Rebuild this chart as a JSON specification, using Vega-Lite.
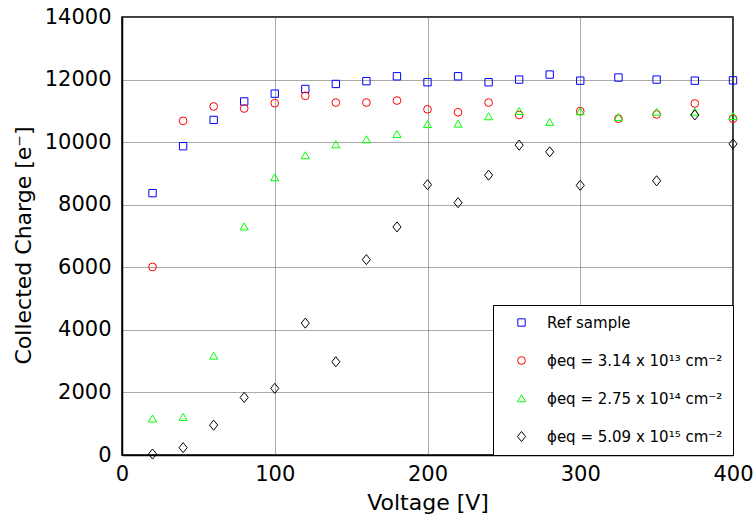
{
  "$schema": "https://vega.github.io/schema/vega-lite/v6.json",
  "width": 611,
  "height": 438,
  "autosize": {"type": "none"},
  "padding": {"left": 122, "top": 17, "right": 22, "bottom": 62},
  "background": "white",
  "data": {
    "values": [
      {"V": 20, "Q": 8370, "series": "Ref sample"},
      {"V": 40, "Q": 9870, "series": "Ref sample"},
      {"V": 60, "Q": 10710, "series": "Ref sample"},
      {"V": 80, "Q": 11300, "series": "Ref sample"},
      {"V": 100, "Q": 11550, "series": "Ref sample"},
      {"V": 120, "Q": 11700, "series": "Ref sample"},
      {"V": 140, "Q": 11860, "series": "Ref sample"},
      {"V": 160, "Q": 11950, "series": "Ref sample"},
      {"V": 180, "Q": 12105, "series": "Ref sample"},
      {"V": 200, "Q": 11915, "series": "Ref sample"},
      {"V": 220, "Q": 12105, "series": "Ref sample"},
      {"V": 240, "Q": 11915, "series": "Ref sample"},
      {"V": 260, "Q": 12000, "series": "Ref sample"},
      {"V": 280, "Q": 12160, "series": "Ref sample"},
      {"V": 300, "Q": 11965, "series": "Ref sample"},
      {"V": 325, "Q": 12065, "series": "Ref sample"},
      {"V": 350, "Q": 12000, "series": "Ref sample"},
      {"V": 375, "Q": 11965, "series": "Ref sample"},
      {"V": 400, "Q": 11975, "series": "Ref sample"},

      {"V": 20, "Q": 6010, "series": "ϕeq = 3.14 x 10¹³ cm⁻²"},
      {"V": 40, "Q": 10680, "series": "ϕeq = 3.14 x 10¹³ cm⁻²"},
      {"V": 60, "Q": 11140, "series": "ϕeq = 3.14 x 10¹³ cm⁻²"},
      {"V": 80, "Q": 11075, "series": "ϕeq = 3.14 x 10¹³ cm⁻²"},
      {"V": 100, "Q": 11245, "series": "ϕeq = 3.14 x 10¹³ cm⁻²"},
      {"V": 120, "Q": 11480, "series": "ϕeq = 3.14 x 10¹³ cm⁻²"},
      {"V": 140, "Q": 11265, "series": "ϕeq = 3.14 x 10¹³ cm⁻²"},
      {"V": 160, "Q": 11265, "series": "ϕeq = 3.14 x 10¹³ cm⁻²"},
      {"V": 180, "Q": 11330, "series": "ϕeq = 3.14 x 10¹³ cm⁻²"},
      {"V": 200, "Q": 11050, "series": "ϕeq = 3.14 x 10¹³ cm⁻²"},
      {"V": 220, "Q": 10955, "series": "ϕeq = 3.14 x 10¹³ cm⁻²"},
      {"V": 240, "Q": 11265, "series": "ϕeq = 3.14 x 10¹³ cm⁻²"},
      {"V": 260, "Q": 10870, "series": "ϕeq = 3.14 x 10¹³ cm⁻²"},
      {"V": 300, "Q": 10990, "series": "ϕeq = 3.14 x 10¹³ cm⁻²"},
      {"V": 325, "Q": 10750, "series": "ϕeq = 3.14 x 10¹³ cm⁻²"},
      {"V": 350, "Q": 10885, "series": "ϕeq = 3.14 x 10¹³ cm⁻²"},
      {"V": 375, "Q": 11235, "series": "ϕeq = 3.14 x 10¹³ cm⁻²"},
      {"V": 400, "Q": 10750, "series": "ϕeq = 3.14 x 10¹³ cm⁻²"},

      {"V": 20, "Q": 1160, "series": "ϕeq = 2.75 x 10¹⁴ cm⁻²"},
      {"V": 40, "Q": 1210, "series": "ϕeq = 2.75 x 10¹⁴ cm⁻²"},
      {"V": 60, "Q": 3170, "series": "ϕeq = 2.75 x 10¹⁴ cm⁻²"},
      {"V": 80, "Q": 7300, "series": "ϕeq = 2.75 x 10¹⁴ cm⁻²"},
      {"V": 100, "Q": 8870, "series": "ϕeq = 2.75 x 10¹⁴ cm⁻²"},
      {"V": 120, "Q": 9575, "series": "ϕeq = 2.75 x 10¹⁴ cm⁻²"},
      {"V": 140, "Q": 9925, "series": "ϕeq = 2.75 x 10¹⁴ cm⁻²"},
      {"V": 160, "Q": 10085, "series": "ϕeq = 2.75 x 10¹⁴ cm⁻²"},
      {"V": 180, "Q": 10255, "series": "ϕeq = 2.75 x 10¹⁴ cm⁻²"},
      {"V": 200, "Q": 10570, "series": "ϕeq = 2.75 x 10¹⁴ cm⁻²"},
      {"V": 220, "Q": 10585, "series": "ϕeq = 2.75 x 10¹⁴ cm⁻²"},
      {"V": 240, "Q": 10820, "series": "ϕeq = 2.75 x 10¹⁴ cm⁻²"},
      {"V": 260, "Q": 10990, "series": "ϕeq = 2.75 x 10¹⁴ cm⁻²"},
      {"V": 280, "Q": 10640, "series": "ϕeq = 2.75 x 10¹⁴ cm⁻²"},
      {"V": 300, "Q": 10980, "series": "ϕeq = 2.75 x 10¹⁴ cm⁻²"},
      {"V": 325, "Q": 10800, "series": "ϕeq = 2.75 x 10¹⁴ cm⁻²"},
      {"V": 350, "Q": 10965, "series": "ϕeq = 2.75 x 10¹⁴ cm⁻²"},
      {"V": 375, "Q": 10965, "series": "ϕeq = 2.75 x 10¹⁴ cm⁻²"},
      {"V": 400, "Q": 10830, "series": "ϕeq = 2.75 x 10¹⁴ cm⁻²"},

      {"V": 20, "Q": 30, "series": "ϕeq = 5.09 x 10¹⁵ cm⁻²"},
      {"V": 40, "Q": 235, "series": "ϕeq = 5.09 x 10¹⁵ cm⁻²"},
      {"V": 60, "Q": 955, "series": "ϕeq = 5.09 x 10¹⁵ cm⁻²"},
      {"V": 80, "Q": 1840, "series": "ϕeq = 5.09 x 10¹⁵ cm⁻²"},
      {"V": 100, "Q": 2130, "series": "ϕeq = 5.09 x 10¹⁵ cm⁻²"},
      {"V": 120, "Q": 4215, "series": "ϕeq = 5.09 x 10¹⁵ cm⁻²"},
      {"V": 140, "Q": 2980, "series": "ϕeq = 5.09 x 10¹⁵ cm⁻²"},
      {"V": 160, "Q": 6245, "series": "ϕeq = 5.09 x 10¹⁵ cm⁻²"},
      {"V": 180, "Q": 7290, "series": "ϕeq = 5.09 x 10¹⁵ cm⁻²"},
      {"V": 200, "Q": 8640, "series": "ϕeq = 5.09 x 10¹⁵ cm⁻²"},
      {"V": 220, "Q": 8065, "series": "ϕeq = 5.09 x 10¹⁵ cm⁻²"},
      {"V": 240, "Q": 8945, "series": "ϕeq = 5.09 x 10¹⁵ cm⁻²"},
      {"V": 260, "Q": 9905, "series": "ϕeq = 5.09 x 10¹⁵ cm⁻²"},
      {"V": 280, "Q": 9690, "series": "ϕeq = 5.09 x 10¹⁵ cm⁻²"},
      {"V": 300, "Q": 8620, "series": "ϕeq = 5.09 x 10¹⁵ cm⁻²"},
      {"V": 350, "Q": 8765, "series": "ϕeq = 5.09 x 10¹⁵ cm⁻²"},
      {"V": 375, "Q": 10870, "series": "ϕeq = 5.09 x 10¹⁵ cm⁻²"},
      {"V": 400, "Q": 9945, "series": "ϕeq = 5.09 x 10¹⁵ cm⁻²"}
    ]
  },
  "mark": {"type": "point", "filled": false, "strokeWidth": 1, "size": 60, "opacity": 1, "clip": false},
  "encoding": {
    "x": {
      "field": "V", "type": "quantitative",
      "scale": {"domain": [0, 400], "nice": false},
      "axis": {"title": "Voltage [V]", "values": [0, 100, 200, 300, 400], "titlePadding": 8, "labelPadding": 8}
    },
    "y": {
      "field": "Q", "type": "quantitative",
      "scale": {"domain": [0, 14000], "nice": false},
      "axis": {"title": "Collected Charge [e⁻]", "values": [0, 2000, 4000, 6000, 8000, 10000, 12000, 14000], "titlePadding": 9, "labelPadding": 11, "titleY": 228, "format": "d"}
    },
    "color": {
      "field": "series", "type": "nominal",
      "scale": {
        "domain": ["Ref sample", "ϕeq = 3.14 x 10¹³ cm⁻²", "ϕeq = 2.75 x 10¹⁴ cm⁻²", "ϕeq = 5.09 x 10¹⁵ cm⁻²"],
        "range": ["#0000ff", "#ff0000", "#00ff00", "#000000"]
      },
      "legend": {"title": null}
    },
    "shape": {
      "field": "series", "type": "nominal",
      "scale": {
        "domain": ["Ref sample", "ϕeq = 3.14 x 10¹³ cm⁻²", "ϕeq = 2.75 x 10¹⁴ cm⁻²", "ϕeq = 5.09 x 10¹⁵ cm⁻²"],
        "range": ["M-0.95,-0.95H0.95V0.95H-0.95Z", "circle", "M0,-0.95L1.05,0.85L-1.05,0.85Z", "M-1.05,0L0,-1.3L1.05,0L0,1.3Z"]
      },
      "legend": {"title": null}
    }
  },
  "config": {
    "font": "DejaVu Sans",
    "view": {"stroke": "#000000", "strokeWidth": 1.5},
    "axis": {
      "labelFontSize": 21,
      "titleFontSize": 22,
      "titleFontWeight": "normal",
      "labelColor": "#000000",
      "titleColor": "#000000",
      "domainColor": "#000000",
      "domainWidth": 1.5,
      "ticks": false,
      "grid": true,
      "gridColor": "#555555",
      "gridDash": [1, 1],
      "gridWidth": 1,
      "labelFlush": false,
      "labelOverlap": false
    },
    "legend": {
      "orient": "bottom-right",
      "offset": 0,
      "padding": 10,
      "fillColor": "#ffffff",
      "strokeColor": "#000000",
      "strokeWidth": 1,
      "cornerRadius": 0,
      "labelFontSize": 15,
      "labelColor": "#000000",
      "labelLimit": 300,
      "symbolSize": 60,
      "symbolStrokeWidth": 1,
      "symbolOffset": 11,
      "labelOffset": 18,
      "rowPadding": 22
    }
  }
}
